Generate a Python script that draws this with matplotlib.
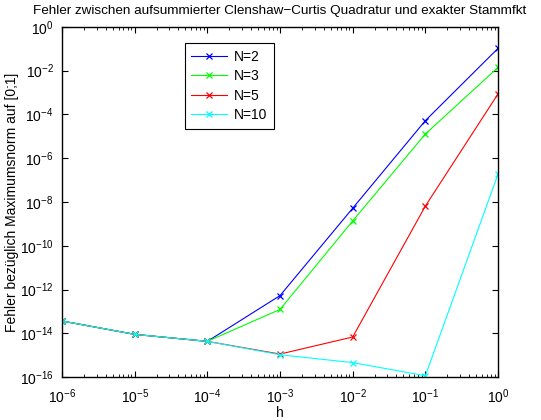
import numpy as np
import matplotlib
matplotlib.use('Agg')
import matplotlib.pyplot as plt
from matplotlib.ticker import LogLocator, FixedLocator, NullFormatter

plt.rcParams['font.family'] = ['Liberation Sans', 'DejaVu Sans']
plt.rcParams['mathtext.fontset'] = 'custom'
plt.rcParams['mathtext.rm'] = 'Liberation Sans'
plt.rcParams['mathtext.it'] = 'Liberation Sans'

# step sizes
h = [1e-6, 1e-5, 1e-4, 1e-3, 1e-2, 1e-1, 1e0]
# log10 of max error
log_err_n2 = [-13.43, -14.04, -14.36, -12.27, -8.28, -4.28, -0.98]
log_err_n3 = [-13.43, -14.04, -14.36, -12.90, -8.86, -4.89, -1.85]
log_err_n5 = [-13.43, -14.04, -14.36, -14.94, -14.16, -8.18, -3.06]
log_err_n10 = [-13.43, -14.04, -14.36, -14.97, -15.33, -15.93, -6.72]
labels = ['N=2', 'N=3', 'N=5', 'N=10']
colors = ['#0000ff', '#00ff00', '#ff0000', '#00ffff']

fig = plt.figure(figsize=(5.41, 4.2), dpi=100)
ax = fig.add_axes([0.1146, 0.1017, 0.806, 0.8343])

for vals, lab, c in zip([log_err_n2, log_err_n3, log_err_n5, log_err_n10], labels, colors):
    ax.loglog(h, 10 ** np.array(vals), color=c, marker='x', markersize=5,
              markeredgewidth=0.9, linewidth=0.8, label=lab)

ax.set_xlim(1e-6, 1)
ax.set_ylim(1e-16, 1)
ax.xaxis.set_major_locator(FixedLocator([10.0 ** k for k in range(-6, 1)]))
ax.xaxis.set_minor_locator(LogLocator(base=10, subs=np.arange(2, 10), numticks=20))
ax.xaxis.set_minor_formatter(NullFormatter())
ax.yaxis.set_major_locator(FixedLocator([10.0 ** k for k in range(-16, 1, 2)]))
ax.yaxis.set_minor_locator(FixedLocator([]))
ax.set_xticklabels(['$10^{%d}$' % k for k in range(-6, 1)])
ax.set_yticklabels(['$10^{%d}$' % k for k in range(-16, 1, 2)])
ax.tick_params(which='both', direction='in', top=True, right=True, labelsize=10)
ax.tick_params(axis='x', which='major', pad=7)
ax.tick_params(axis='y', which='major', pad=6)
ax.tick_params(which='major', length=4)
ax.tick_params(which='minor', length=2)
for s in ax.spines.values():
    s.set_linewidth(1.0)

ax.set_xlabel('h', fontsize=10, labelpad=0)
ax.set_ylabel('Fehler bezüglich Maximumsnorm auf [0;1]', fontsize=10, labelpad=1)
ax.set_title('Fehler zwischen aufsummierter Clenshaw\u2212Curtis Quadratur und exakter Stammfkt',
             fontsize=9.7, pad=9)

leg = ax.legend(loc='upper left', bbox_to_anchor=(0.282, 0.953), borderaxespad=0,
                fancybox=False, edgecolor='black', framealpha=1, fontsize=10,
                handlelength=2.6, handletextpad=0.5, borderpad=0.45, labelspacing=0.4)
leg.get_frame().set_linewidth(0.8)

fig.savefig('out.png', dpi=100)
